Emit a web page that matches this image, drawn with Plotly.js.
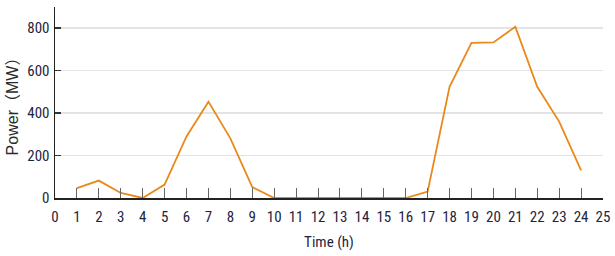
<!DOCTYPE html>
<html>
<head>
<meta charset="utf-8">
<script src="https://cdn.plot.ly/plotly-3.0.1.min.js"></script>
<style>html,body{margin:0;padding:0;background:#fff;}#chart{width:615px;height:256px;}</style>
</head>
<body>
<div id="chart"></div>
<script>
const hours = [1,2,3,4,5,6,7,8,9,10,11,12,13,14,15,16,17,18,19,20,21,22,23,24];
const power = [47,82,24,0,63,290,454,281,51,0,0,0,0,0,0,0,30,524,731,733,807,524,360,130];
const xTicks = [0,1,2,3,4,5,6,7,8,9,10,11,12,13,14,15,16,17,18,19,20,21,22,23,24,25];
const yTicks = [0,200,400,600,800];

const narrow = '"Liberation Sans Narrow", "Arial Narrow", "Roboto Condensed", sans-serif';
const tickColor = '#1f2440';

Plotly.newPlot('chart', [{
  x: hours, y: power, type: 'scatter', mode: 'lines',
  line: {color: '#E8891A', width: 1.8},
  hoverinfo: 'skip'
}], {
  width: 615, height: 256,
  margin: {l: 55, r: 12, t: 7, b: 58},
  paper_bgcolor: '#fff', plot_bgcolor: '#fff',
  showlegend: false,
  xaxis: {
    range: [0, 25], tickvals: xTicks, ticktext: xTicks.map(String),
    ticks: 'inside', ticklen: 10, tickwidth: 1, tickcolor: '#666',
    showline: true, linecolor: '#222', linewidth: 1.5,
    showgrid: false, zeroline: false,
    ticklabelstandoff: 4,
    tickfont: {family: narrow, size: 15, color: tickColor},
    title: {text: 'Time (h)', font: {family: narrow, size: 15, color: tickColor}, standoff: 12}
  },
  yaxis: {
    range: [0, 900], tickvals: yTicks, ticktext: yTicks.map(String),
    ticks: 'inside', ticklen: 6, tickwidth: 1.5, tickcolor: '#333',
    showline: true, linecolor: '#222', linewidth: 1.5,
    showgrid: true, gridcolor: '#e3e3e3', gridwidth: 1.5, zeroline: false,
    ticklabelstandoff: 1,
    tickfont: {family: narrow, size: 15, color: tickColor},
    title: {text: 'Power（MW）', font: {family: '"Liberation Sans", Arial, "Noto Sans CJK SC", sans-serif', size: 16, color: '#2a2a2a'}, standoff: 4}
  }
}, {staticPlot: true});
</script>
</body>
</html>
